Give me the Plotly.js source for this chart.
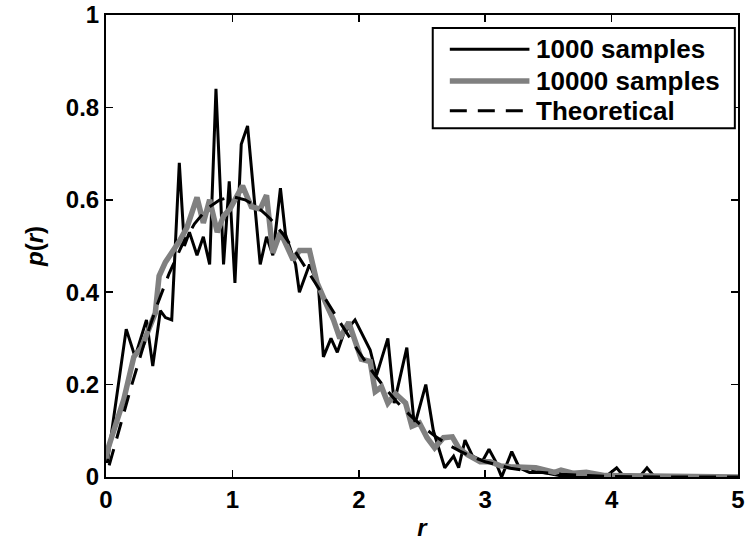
<!DOCTYPE html>
<html>
<head>
<meta charset="utf-8">
<script src="https://cdn.plot.ly/plotly-3.0.1.min.js"></script>
<style>html,body{margin:0;padding:0;background:#fff;}#chart{width:754px;height:544px;}</style>
</head>
<body>
<div id="chart"></div>
<script>
// 1000 samples (histogram estimate)
const r1000 = [0.01,0.16,0.23,0.32,0.37,0.43,0.47,0.52,0.58,0.62,0.66,0.72,0.77,0.82,0.87,0.93,0.975,1.02,1.07,1.12,1.22,1.27,1.32,1.38,1.42,1.50,1.53,1.61,1.68,1.72,1.78,1.83,1.88,1.97,2.09,2.14,2.23,2.28,2.38,2.44,2.53,2.59,2.68,2.75,2.79,2.84,2.90,2.98,3.03,3.08,3.13,3.21,3.27,3.35,3.45,3.55,3.65,3.95,4.04,4.10,4.22,4.28,4.34,5.00];
const p1000 = [0.03,0.32,0.26,0.34,0.24,0.36,0.345,0.34,0.68,0.50,0.53,0.48,0.52,0.46,0.84,0.46,0.64,0.42,0.72,0.76,0.46,0.52,0.48,0.625,0.525,0.46,0.40,0.46,0.415,0.26,0.30,0.27,0.31,0.34,0.275,0.22,0.30,0.16,0.28,0.11,0.20,0.10,0.02,0.045,0.02,0.08,0.045,0.035,0.06,0.035,0.0,0.055,0.02,0.01,0.01,0.005,0.0,0.0,0.02,0.0,0.0,0.02,0.0,0.0];

// 10000 samples
const r10000 = [0.00,0.02,0.14,0.22,0.28,0.35,0.39,0.42,0.47,0.58,0.64,0.72,0.77,0.82,0.88,0.93,0.98,1.08,1.15,1.22,1.27,1.32,1.38,1.48,1.53,1.61,1.67,1.75,1.80,1.85,1.92,2.02,2.09,2.13,2.18,2.23,2.29,2.37,2.42,2.48,2.54,2.60,2.67,2.74,2.79,2.86,2.96,3.04,3.12,3.20,3.30,3.40,3.55,3.60,3.70,3.80,3.95,4.20,5.00];
const p10000 = [0.04,0.065,0.167,0.26,0.28,0.33,0.355,0.435,0.465,0.51,0.54,0.605,0.55,0.60,0.53,0.565,0.58,0.63,0.585,0.58,0.61,0.485,0.53,0.47,0.49,0.49,0.42,0.37,0.34,0.30,0.335,0.255,0.25,0.185,0.195,0.16,0.18,0.16,0.11,0.117,0.085,0.063,0.085,0.087,0.063,0.048,0.033,0.033,0.024,0.022,0.02,0.02,0.01,0.015,0.008,0.01,0.003,0.002,0.0];

// Theoretical curve
const rTheo = [0.025,0.1,0.2,0.3,0.4,0.5,0.6,0.7,0.8,0.9,1.0,1.1,1.2,1.3,1.4,1.5,1.6,1.7,1.8,1.9,2.0,2.1,2.2,2.3,2.4,2.5,2.6,2.7,2.8,2.9,3.0,3.2,3.4,3.6,3.8,4.0,4.5,5.0];
const pTheo = [0.025,0.100,0.196,0.287,0.369,0.441,0.501,0.548,0.581,0.600,0.607,0.600,0.584,0.559,0.526,0.487,0.445,0.401,0.357,0.313,0.271,0.231,0.195,0.163,0.135,0.110,0.089,0.071,0.056,0.043,0.033,0.019,0.011,0.006,0.003,0.001,0.000,0.000];

const legendNames = ["1000 samples","10000 samples","Theoretical"];
const xTicks = [0,1,2,3,4,5];
const yTicks = [0,0.2,0.4,0.6,0.8,1];
const yTickText = ["0","0.2","0.4","0.6","0.8","1"];

const FONT = "Liberation Sans, Arial, Helvetica, sans-serif";
const FS = 24;
const LFS = 26;

const styles = [
  {color:"#000000", width:3},
  {color:"#808080", width:5.5},
  {color:"#000000", width:3, dash:"17px,11px"}
];

const traces = [
  {x:r1000, y:p1000, mode:"lines", name:legendNames[0], line:styles[0]},
  {x:r10000, y:p10000, mode:"lines", name:legendNames[1], line:styles[1]},
  {x:rTheo, y:pTheo, mode:"lines", name:legendNames[2], line:styles[2]}
];

// legend geometry (paper coords)
const lgX0 = 0.517, lgX1 = 0.995, lgY0 = 0.755, lgY1 = 0.972;
const rowY = [0.926, 0.857, 0.793];
const lineX0 = 0.544, lineX1 = 0.670, textX = 0.677;

const shapes = [
  {type:"rect", xref:"paper", yref:"paper", x0:lgX0, x1:lgX1, y0:lgY0, y1:lgY1,
   line:{color:"#000", width:2}, fillcolor:"#ffffff", layer:"above"}
];
const annotations = [];
for (let i=0;i<3;i++){
  shapes.push({type:"line", xref:"paper", yref:"paper", x0:lineX0, x1:lineX1, y0:rowY[i], y1:rowY[i],
    line:styles[i], layer:"above"});
  annotations.push({xref:"paper", yref:"paper", x:textX, y:rowY[i], xanchor:"left", yanchor:"middle",
    text:legendNames[i], showarrow:false, font:{family:FONT, size:LFS, color:"#000", weight:"bold"}});
}

const axisCommon = {
  showline:true, linecolor:"#000", linewidth:2, mirror:"ticks",
  ticks:"inside", ticklen:7, tickwidth:1.5, tickcolor:"#000",
  showgrid:false, zeroline:false,
  tickfont:{family:FONT, size:FS, color:"#000", weight:"bold"}
};

const layout = {
  width:754, height:544,
  margin:{l:106, r:16, t:15, b:67, pad:0},
  paper_bgcolor:"#fff", plot_bgcolor:"#fff",
  showlegend:false,
  xaxis:Object.assign({}, axisCommon, {
    range:[0,5], tickvals:xTicks, ticktext:xTicks.map(String),
    title:{text:"<i>r</i>", font:{family:FONT, size:FS, color:"#000", weight:"bold"}, standoff:7}
  }),
  yaxis:Object.assign({}, axisCommon, {
    range:[0,1], tickvals:yTicks, ticktext:yTickText,
    title:{text:"<i>p</i>(<i>r</i>)", font:{family:FONT, size:FS, color:"#000", weight:"bold"}, standoff:15}
  }),
  shapes:shapes,
  annotations:annotations
};

Plotly.newPlot("chart", traces, layout, {staticPlot:true, displayModeBar:false});
</script>
</body>
</html>
